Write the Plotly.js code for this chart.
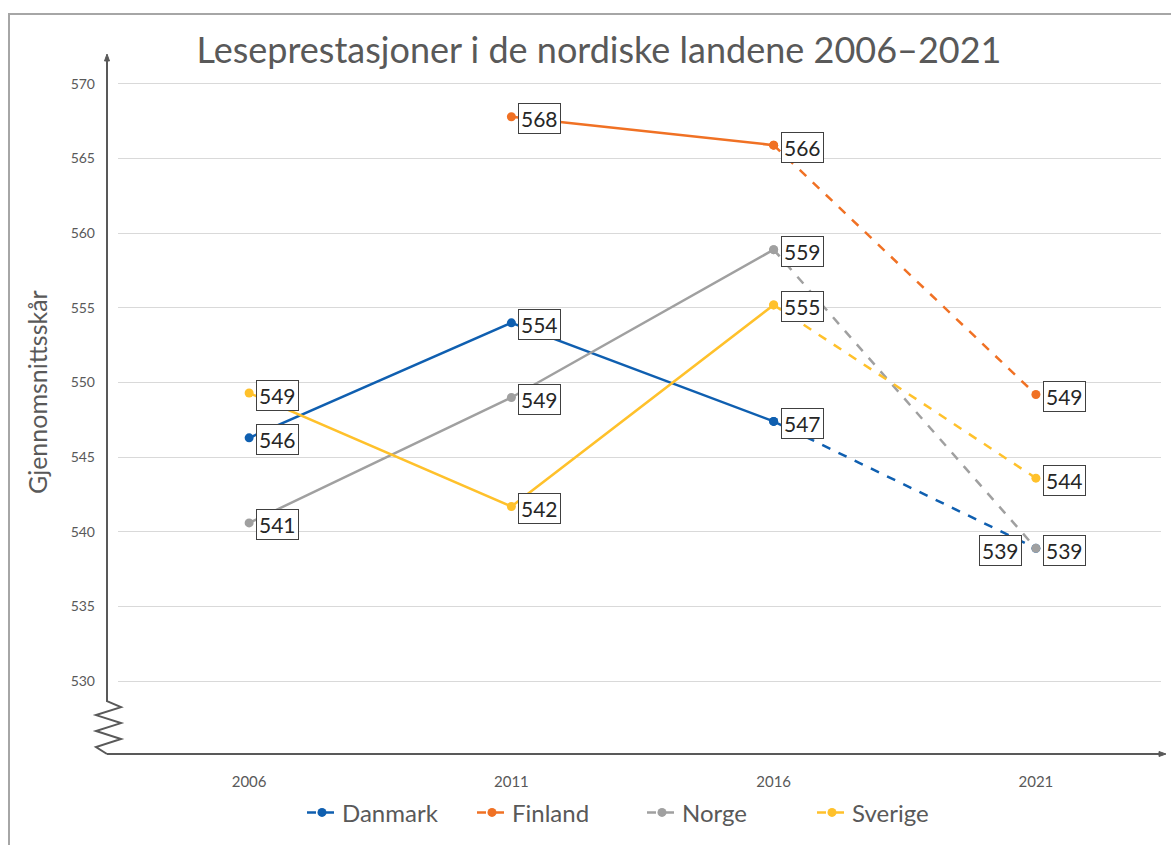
<!DOCTYPE html>
<html>
<head>
<meta charset="utf-8">
<script src="https://cdn.plot.ly/plotly-3.0.1.min.js"></script>
<style>html,body{margin:0;padding:0;background:#fff;}</style>
</head>
<body>
<div id="chart" style="width:1171px;height:845px;"></div>
<script>
// ---- data ----
const years = ['2006', '2011', '2016', '2021'];
const countries = ['Danmark', 'Finland', 'Norge', 'Sverige'];
const danmark = [546.3, 554.0, 547.4, 538.9];
const finland = [null, 567.8, 565.9, 549.2];
const norge   = [540.6, 549.0, 558.9, 538.9];
const sverige = [549.3, 541.7, 555.2, 543.6];
const colors = ['#0F5FB0', '#F07124', '#A0A0A0', '#FFC12B'];
const yTickVals = [530, 535, 540, 545, 550, 555, 560, 565, 570];
const titleText = 'Leseprestasjoner i de nordiske landene 2006–2021';
const yTitle = 'Gjennomsnittsskår';
// label placed on the left of the point (series index, year index)
const leftLabels = [[0, 3]];

const seriesVals = [danmark, finland, norge, sverige];

// ---- geometry helpers (pixel -> paper) ----
const W = 1171, H = 845;
const L = 118, R = 10, T = 55, B = 89;
const PW = W - L - R, PH = H - T - B;
const px = x => (x - L) / PW;
const py = y => (H - B - y) / PH;

const FONT = 'Lato, "Open Sans", sans-serif';
const TXT = '#595959';

const traces = [];
seriesVals.forEach((vals, i) => {
  const solid = vals.map((v, j) => j <= 2 ? v : null);
  const dashed = vals.map((v, j) => j >= 2 ? v : null);
  traces.push({
    type: 'scatter', mode: 'lines+markers', x: years, y: solid,
    name: countries[i], legendgroup: countries[i], showlegend: false,
    line: {color: colors[i], width: 2.5},
    marker: {color: colors[i], size: 9},
    connectgaps: false
  });
  traces.push({
    type: 'scatter', mode: 'lines+markers', x: years, y: dashed,
    name: countries[i], legendgroup: countries[i], showlegend: true,
    line: {color: colors[i], width: 2.5, dash: 'dash'},
    marker: {color: colors[i], size: 9},
    connectgaps: false
  });
});

const annotations = [];
seriesVals.forEach((vals, i) => {
  vals.forEach((v, j) => {
    if (v === null) return;
    const left = leftLabels.some(p => p[0] === i && p[1] === j);
    annotations.push({
      x: j, y: v, xref: 'x', yref: 'y',
      text: String(Math.round(v)), showarrow: false,
      xanchor: left ? 'right' : 'left', yanchor: 'middle',
      xshift: left ? -14 : 7, yshift: -2,
      font: {family: FONT, size: 21, color: '#262626'},
      bgcolor: '#ffffff', bordercolor: '#404040', borderwidth: 1, borderpad: 2
    });
  });
});

// y-axis title as rotated text
annotations.push({
  xref: 'paper', yref: 'paper', x: px(37), y: py(393), xanchor: 'center', yanchor: 'middle',
  text: yTitle, textangle: -90, showarrow: false,
  font: {family: FONT, size: 25, color: TXT}
});

// axis decorations
const axisColor = '#595959';
const zig = [[107,703],[121,709],[96,717],[121,725],[96,733],[121,741],[96,749],[107,756]];
let zpath = 'M ' + px(107) + ' ' + py(60);
zig.forEach(p => { zpath += ' L ' + px(p[0]) + ' ' + py(p[1]); });

const shapes = [
  {type: 'rect', xref: 'paper', yref: 'paper', x0: px(9), y0: py(14), x1: px(1200), y1: py(870),
   line: {color: '#A6A6A6', width: 2}, layer: 'below'},
  {type: 'path', xref: 'paper', yref: 'paper', path: zpath, line: {color: axisColor, width: 2}},
  {type: 'path', xref: 'paper', yref: 'paper',
   path: 'M ' + px(104.5) + ' ' + py(61) + ' L ' + px(107) + ' ' + py(54) + ' L ' + px(109.5) + ' ' + py(61) + ' Z',
   fillcolor: axisColor, line: {color: axisColor, width: 1}},
  {type: 'line', xref: 'paper', yref: 'paper', x0: px(107), y0: py(756), x1: px(1162), y1: py(756),
   line: {color: axisColor, width: 2}},
  {type: 'path', xref: 'paper', yref: 'paper',
   path: 'M ' + px(1159) + ' ' + py(753.5) + ' L ' + px(1166) + ' ' + py(756) + ' L ' + px(1159) + ' ' + py(758.5) + ' Z',
   fillcolor: axisColor, line: {color: axisColor, width: 1}}
];

const layout = {
  width: W, height: H,
  margin: {l: L, r: R, t: T, b: B},
  paper_bgcolor: '#ffffff', plot_bgcolor: '#ffffff',
  font: {family: FONT, color: TXT},
  title: {text: titleText, font: {family: FONT, size: 36, color: TXT},
          x: px(599), xanchor: 'center', xref: 'paper', y: 1 - 50 / H, yanchor: 'middle'},
  xaxis: {
    type: 'category', range: [-0.5, 3.477], showgrid: false, zeroline: false, showline: false,
    tickfont: {family: FONT, size: 15, color: TXT}, ticks: '', ticklabelstandoff: 17, fixedrange: true
  },
  yaxis: {
    range: [525.125, 571.937], tickvals: yTickVals, showgrid: true, gridcolor: '#D9D9D9', gridwidth: 1,
    zeroline: false, showline: false, ticks: '', ticklabelstandoff: 22,
    tickfont: {family: FONT, size: 14, color: TXT},
    fixedrange: true
  },
  showlegend: true,
  legend: {
    orientation: 'h', x: px(642), xanchor: 'center', y: py(815), yanchor: 'middle',
    font: {family: FONT, size: 24, color: TXT}, entrywidth: 125, bgcolor: 'rgba(0,0,0,0)'
  },
  shapes: shapes,
  annotations: annotations
};

Plotly.newPlot('chart', traces, layout, {displayModeBar: false, staticPlot: true});
</script>
</body>
</html>
